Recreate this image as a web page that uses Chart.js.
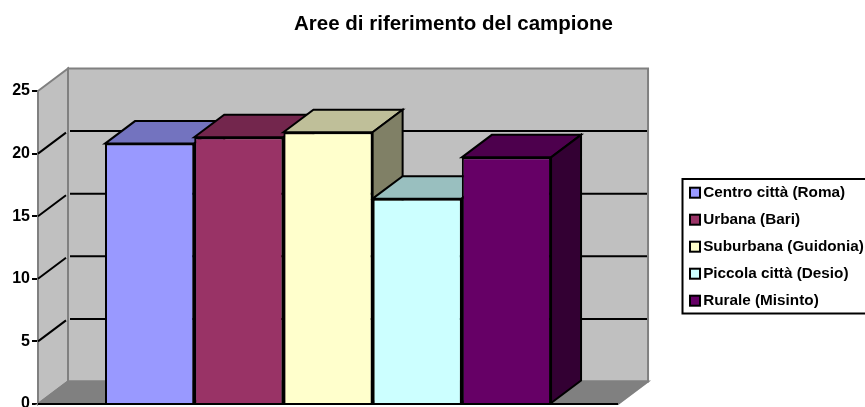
<!DOCTYPE html>
<html>
<head>
<meta charset="utf-8">
<style>
    html, body { margin: 0; padding: 0; background: #fff; overflow: hidden; }
    canvas { display: block; }
</style>
<script src="https://cdn.jsdelivr.net/npm/chart.js@4"></script>
</head>
<body>
<canvas id="areeChart" width="865" height="407"></canvas>
<script>
// Values
const titleText = 'Aree di riferimento del campione';
const areas = ['Centro città (Roma)', 'Urbana (Bari)', 'Suburbana (Guidonia)', 'Piccola città (Desio)', 'Rurale (Misinto)'];
const values = [20.8, 21.3, 21.7, 16.4, 19.7];
const frontColors = ['#9999FF', '#993366', '#FFFFCC', '#CCFFFF', '#660066'];
const topColors = ['#7373BF', '#73264D', '#BFBF99', '#99BFBF', '#4D004D'];
const sideColors = ['#666699', '#4D1933', '#808066', '#668080', '#330033'];

// Depth of the fake 3D box
const depthX = 30;
const depthY = 22.5;

// Legend rows
const legendFont = 15.3;
const legendPadding = 11.7;

function fillPoly(ctx, points, fill, stroke, width) {
    ctx.beginPath();
    points.forEach((p, i) => i === 0 ? ctx.moveTo(p[0], p[1]) : ctx.lineTo(p[0], p[1]));
    ctx.closePath();
    ctx.fillStyle = fill;
    ctx.fill();
    ctx.strokeStyle = stroke;
    ctx.lineWidth = width;
    ctx.lineJoin = 'miter';
    ctx.stroke();
}

const box3d = {
    id: 'box3d',
    afterLayout(chart) {
        // title sits over the plot + legend, not the page centre
        chart.titleBlock.left = 93;
        // legend is a framed box that runs off the right edge
        const lg = chart.legend;
        lg.left = 677.8;
        lg.right = 865;
        lg.top = 173.35;
        lg.bottom = 360;
    },
    beforeDraw(chart) {
        const ctx = chart.ctx;
        ctx.save();
        ctx.strokeStyle = '#000';
        ctx.lineWidth = 2;
        ctx.strokeRect(682.5, 179, 200, 134.5);
        ctx.restore();
    },
    beforeDatasetsDraw(chart) {
        const ctx = chart.ctx;
        const { left, right } = chart.chartArea;
        const y = chart.scales.y;
        const y0 = y.getPixelForValue(0);
        const yMax = y.getPixelForValue(y.max);
        ctx.save();

        // walls and floor
        fillPoly(ctx, [[left + depthX, yMax - depthY], [right + depthX, yMax - depthY], [right + depthX, y0 - depthY], [left + depthX, y0 - depthY]], '#C0C0C0', '#808080', 2);
        fillPoly(ctx, [[left, yMax], [left + depthX, yMax - depthY], [left + depthX, y0 - depthY], [left, y0]], '#C0C0C0', '#808080', 2);
        fillPoly(ctx, [[left, y0], [left + depthX, y0 - depthY], [right + depthX, y0 - depthY], [right, y0]], '#808080', '#808080', 2);

        // gridlines, slanted on the side wall then across the back
        ctx.strokeStyle = '#000';
        ctx.lineWidth = 2;
        y.ticks.forEach(t => {
            if (t.value === 0 || t.value === y.max) return;
            const py = y.getPixelForValue(t.value);
            ctx.beginPath();
            ctx.moveTo(left, py);
            ctx.lineTo(left + depthX - 2, py - depthY + 1.5);
            ctx.moveTo(left + depthX + 2, py - depthY);
            ctx.lineTo(right + depthX - 1, py - depthY);
            ctx.stroke();
        });

        // front edge of the floor
        ctx.beginPath();
        ctx.moveTo(left, y0);
        ctx.lineTo(right, y0);
        ctx.stroke();

        // bar tops and sides, left to right, fronts get drawn by the library
        chart.data.datasets.forEach((ds, i) => {
            const bar = chart.getDatasetMeta(i).data[0];
            const half = bar.width / 2;
            const x1 = bar.x - half;
            const x2 = bar.x + half;
            fillPoly(ctx, [[x1, bar.y], [x1 + depthX, bar.y - depthY], [x2 + depthX, bar.y - depthY], [x2, bar.y]], topColors[i], '#000', 2);
            fillPoly(ctx, [[x2, bar.y], [x2 + depthX, bar.y - depthY], [x2 + depthX, bar.base - depthY], [x2, bar.base]], sideColors[i], '#000', 2);
        });
        ctx.restore();
    },
    afterDraw(chart) {
        // legend swatches sit closer to the text than the library allows
        const ctx = chart.ctx;
        const lg = chart.legend;
        ctx.save();
        areas.forEach((area, i) => {
            const cy = lg.top + legendPadding + legendFont / 2 + i * (legendFont + legendPadding);
            ctx.fillStyle = frontColors[i];
            ctx.strokeStyle = '#000';
            ctx.lineWidth = 2;
            ctx.fillRect(690, cy - 5, 10, 10);
            ctx.strokeRect(690, cy - 5, 10, 10);
        });
        ctx.restore();
    }
};

const datasets = areas.map((area, i) => ({
    label: area,
    data: [values[i]],
    backgroundColor: frontColors[i],
    borderColor: '#000',
    borderWidth: 2,
    barPercentage: 1,
    categoryPercentage: 0.769
}));

const ctx = document.getElementById('areeChart').getContext('2d');
new Chart(ctx, {
    type: 'bar',
    data: { labels: [''], datasets: datasets },
    plugins: [box3d],
    options: {
        responsive: false,
        animation: false,
        layout: { padding: { top: 0, right: 51, bottom: 3, left: 0 } },
        scales: {
            x: { display: false },
            y: {
                min: 0,
                max: 25,
                ticks: {
                    stepSize: 5,
                    color: '#000',
                    padding: 2,
                    font: { family: 'Liberation Sans', size: 16, weight: 'bold' }
                },
                grid: { drawOnChartArea: false, drawTicks: true, tickLength: 6, color: '#000', lineWidth: 2 },
                border: { display: true, color: '#000', width: 2 },
                afterFit(scale) {
                    scale.width = 38;
                    scale.paddingTop = 0;
                    scale.paddingBottom = 0;
                }
            }
        },
        plugins: {
            title: {
                display: true,
                text: titleText,
                color: '#000',
                font: { family: 'Liberation Sans', size: 20.5, weight: 'bold' },
                padding: { top: 12.5, bottom: 53.9 }
            },
            legend: {
                position: 'right',
                align: 'start',
                labels: {
                    color: '#000',
                    boxWidth: 6,
                    boxHeight: 10,
                    padding: legendPadding,
                    font: { family: 'Liberation Sans', size: legendFont, weight: 'bold' },
                    generateLabels(chart) {
                        // swatches are painted in afterDraw
                        return Chart.defaults.plugins.legend.labels.generateLabels(chart).map(item => ({
                            ...item,
                            fillStyle: 'transparent',
                            strokeStyle: 'transparent',
                            lineWidth: 0
                        }));
                    }
                }
            },
            tooltip: { enabled: false }
        }
    }
});
</script>
</body>
</html>
